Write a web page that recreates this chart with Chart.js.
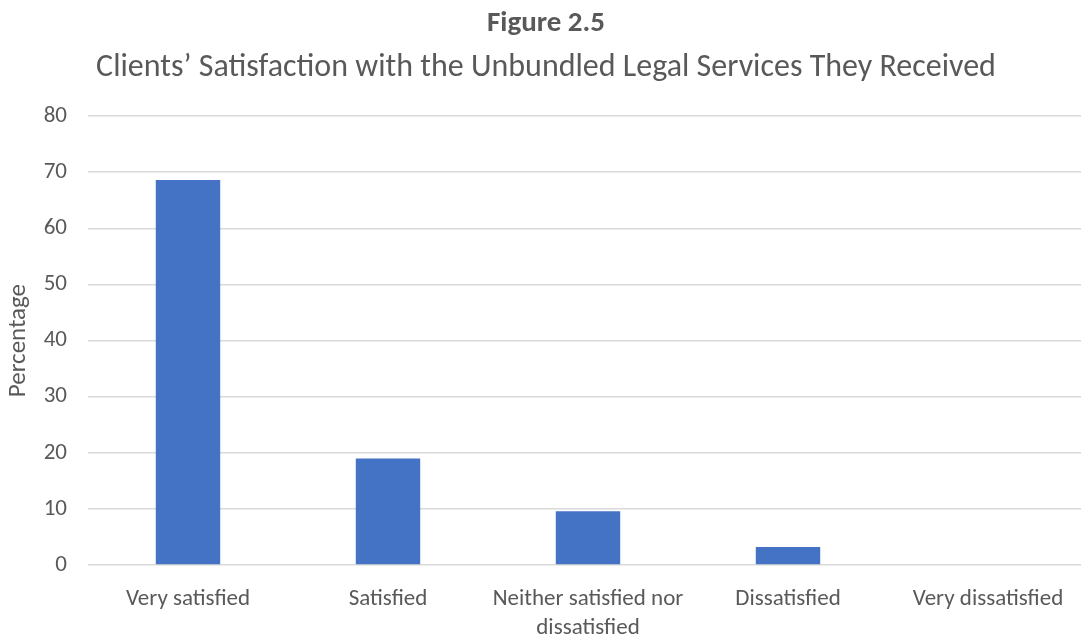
<!DOCTYPE html>
<html>
<head>
<meta charset="utf-8">
<script src="https://cdn.jsdelivr.net/npm/chart.js@4/dist/chart.umd.min.js"></script>
<style>
  html, body { margin: 0; padding: 0; background: #ffffff; overflow: hidden; }
  #wrap { width: 1081px; height: 638px; overflow: hidden; }
  canvas { display: block; }
</style>
</head>
<body>
<div id="wrap"><canvas id="chart" width="1090" height="638"></canvas></div>
<script>
const categories = [
  'Very satisfied',
  'Satisfied',
  ['Neither satisfied nor', 'dissatisfied'],
  'Dissatisfied',
  'Very dissatisfied'
];
const percentages = [68.6, 19.0, 9.6, 3.2, 0];
const yTicks = [0, 10, 20, 30, 40, 50, 60, 70, 80];

const FONT = 'Carlito, Calibri, Lato, "Open Sans", sans-serif';
const TEXT = '#595959';

new Chart(document.getElementById('chart'), {
  type: 'bar',
  data: {
    labels: categories,
    datasets: [{
      label: 'Percentage',
      data: percentages,
      backgroundColor: '#4472C4',
      borderWidth: 0,
      barPercentage: 1,
      categoryPercentage: 0.322
    }]
  },
  options: {
    responsive: false,
    animation: false,
    layout: { padding: { left: 4, right: 2, top: 8, bottom: 0 } },
    plugins: {
      legend: { display: false },
      tooltip: { enabled: false },
      title: {
        display: true,
        text: 'Figure 2.5',
        color: '#595959',
        font: { family: FONT, size: 29, weight: 'bold', lineHeight: 1.1 },
        padding: { top: 0, bottom: 10 }
      },
      subtitle: {
        display: true,
        text: 'Clients\u2019 Satisfaction with the Unbundled Legal Services They Received',
        color: '#595959',
        font: { family: FONT, size: 32, lineHeight: 1.1 },
        padding: { top: 0, bottom: 31 }
      }
    },
    scales: {
      x: {
        grid: { display: false, drawTicks: false },
        border: { display: false },
        afterFit: (axis) => { axis.height = 73; },
        ticks: {
          color: TEXT,
          font: { family: FONT, size: 23, lineHeight: 1.25 },
          padding: 20,
          maxRotation: 0,
          autoSkip: false
        }
      },
      y: {
        min: 0,
        max: 80,
        afterBuildTicks: (axis) => { axis.ticks = yTicks.map(v => ({ value: v })); },
        afterFit: (axis) => { axis.width = 84; },
        grid: { color: '#d9d9d9', lineWidth: 1.5, drawTicks: false },
        border: { display: false },
        ticks: {
          color: TEXT,
          font: { family: FONT, size: 23 },
          padding: 21
        },
        title: {
          display: true,
          text: 'Percentage',
          color: TEXT,
          font: { family: FONT, size: 25 },
          padding: { top: 0, bottom: 0 }
        }
      }
    }
  }
});
</script>
</body>
</html>
